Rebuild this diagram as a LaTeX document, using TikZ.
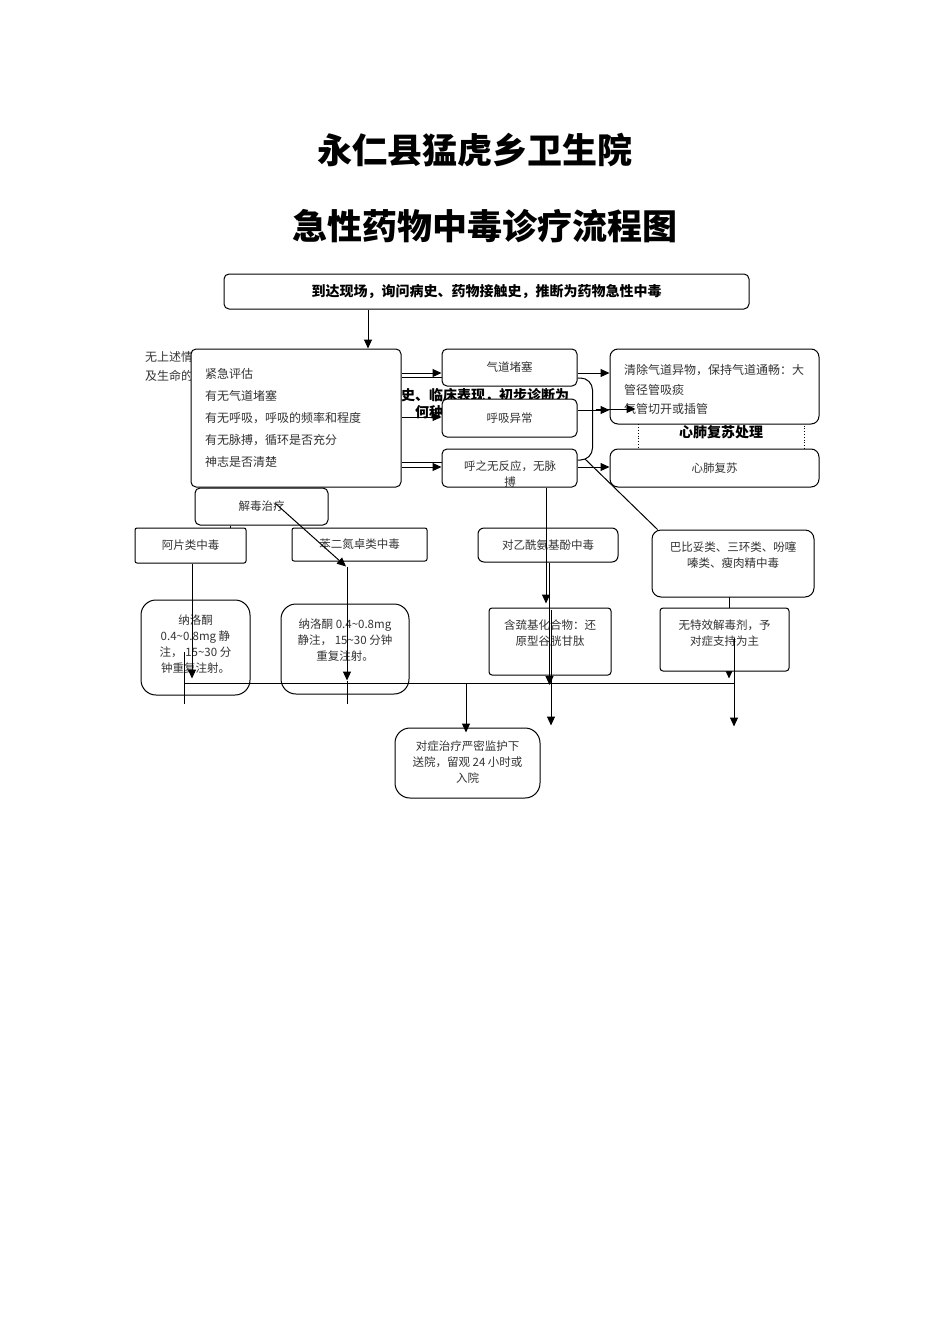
\documentclass[tikz,border=0pt]{standalone}
\usepackage{fontspec}
\setmainfont{Noto Sans CJK SC}
\usetikzlibrary{positioning,arrows.meta,calc}
\pgfdeclarelayer{back}
\pgfsetlayers{back,main}
\tikzset{
  box/.style={draw, line width=1pt, rounded corners=5pt, fill=white, inner sep=0pt},
  txt/.style={font=\fontsize{11.5}{16}\selectfont, text=black!80, align=center, inner sep=0pt},
  arr/.style={-{Triangle[length=9pt,width=8pt]}, line width=1pt},
  ln/.style={line width=1pt},
}
\begin{document}
\begin{tikzpicture}[x=1pt,y=-1pt]
\useasboundingbox (0,0) rectangle (950,1344);
% titles
\node[font=\fontsize{35}{40}\selectfont\bfseries] (T1) at (475,150) {永仁县猛虎乡卫生院};
\node[font=\fontsize{35}{40}\selectfont\bfseries] (T2) at (485,226) {急性药物中毒诊疗流程图};
% boxes
\node[box, minimum width=525pt, minimum height=35pt, font=\fontsize{14}{16}\selectfont\bfseries] (S) at (486.5,291.5) {到达现场，询问病史、药物接触史，推断为药物急性中毒};
\node[box, minimum width=210pt, minimum height=138pt, text width=182pt, inner xsep=14pt, align=left, font=\fontsize{12}{22}\selectfont, text=black!80] (E) at (296,418) {紧急评估\\有无气道堵塞\\有无呼吸，呼吸的频率和程度\\有无脉搏，循环是否充分\\神志是否清楚};
\node[box, txt, minimum width=135pt, minimum height=37pt] (K1) at (509.5,367.5) {气道堵塞};
\node[box, txt, minimum width=135pt, minimum height=38pt] (K2) at (509.5,418) {呼吸异常};
\node[box, minimum width=135pt, minimum height=38pt] (K3) at (509.5,468) {};
\node[txt] (K3t) at (510,474) {呼之无反应，无脉\\搏};
\node[box, rounded corners=8pt, minimum width=209pt, minimum height=75pt] (R1) at (714.5,386.5) {};
\node[txt, align=left, anchor=west, font=\fontsize{12}{19.5}\selectfont] (R1t) at (624,389.5) {清除气道异物，保持气道通畅：大\\管径管吸痰\\气管切开或插管};
\node[box, txt, rounded corners=8pt, minimum width=209pt, minimum height=38pt] (R2) at (714.5,468) {心肺复苏};
\node[box, txt, minimum width=133pt, minimum height=37pt] (J) at (261.5,506.5) {解毒治疗};
\node[box, txt, rounded corners=2pt, minimum width=111pt, minimum height=35pt] (A1) at (190.5,545.5) {阿片类中毒};
\node[box, txt, rounded corners=2pt, minimum width=135pt, minimum height=33pt] (A2) at (359.5,544.5) {苯二氮卓类中毒};
\node[box, txt, rounded corners=6pt, minimum width=140pt, minimum height=34pt] (A3) at (548,545) {对乙酰氨基酚中毒};
\node[box, rounded corners=9pt, minimum width=162pt, minimum height=67pt] (B4) at (733,563.5) {};
\node[txt] (B4t) at (733,555) {巴比妥类、三环类、吩噻\\嗪类、瘦肉精中毒};
\node[box, rounded corners=15pt, minimum width=109pt, minimum height=95pt] (N1) at (195.5,647.5) {};
\node[txt] (N1t) at (195.5,644) {纳洛酮\\0.4\textasciitilde0.8mg 静\\注， 15\textasciitilde30 分\\钟重复注射。};
\node[box, rounded corners=15pt, minimum width=128pt, minimum height=90pt] (N2) at (345,649) {};
\node[txt] (N2t) at (345,640) {纳洛酮 0.4\textasciitilde0.8mg\\静注， 15\textasciitilde30 分钟\\重复注射。};
\node[box, rounded corners=3pt, minimum width=122pt, minimum height=67pt] (H1) at (550,641.5) {};
\node[txt] (H1t) at (550,633) {含巯基化合物：还\\原型谷胱甘肽};
\node[box, rounded corners=3pt, minimum width=129pt, minimum height=63pt] (W) at (724.5,639.5) {};
\node[txt] (Wt) at (724.5,633) {无特效解毒剂，予\\对症支持为主};
\node[box, rounded corners=15pt, minimum width=145pt, minimum height=70pt] (F) at (467.5,763) {};
\node[txt] (Ft) at (467.5,762.5) {对症治疗严密监护下\\送院，留观 24 小时或\\入院};
% things lying under the boxes
\begin{pgfonlayer}{back}
\node[txt, anchor=west, font=\fontsize{12}{16}\selectfont] (U1) at (145,357) {无上述情};
\node[txt, anchor=west, font=\fontsize{12}{16}\selectfont] (U2) at (145,376) {及生命的};
\node[anchor=west, inner sep=0pt, font=\fontsize{14}{16}\selectfont\bfseries] (Q1) at (401,396) {史、临床表现，初步诊断为};
\node[anchor=west, inner sep=0pt, font=\fontsize{14}{16}\selectfont\bfseries] (Q2) at (415,412) {何种};
\node[draw, dotted, line width=0.8pt, minimum width=166pt, minimum height=60pt, font=\fontsize{14}{16}\selectfont\bfseries] (D) at (721,432) {心肺复苏处理};
\draw[arr] ($(B4.south -| 729,0)+(0,-9)$) -- ($(W.south -| 729,0)+(0,7)$);
\end{pgfonlayer}
% connectors
\coordinate (bkD) at (585,459);
\coordinate (busL) at (184,683);
\coordinate (busR) at (735,683);
\draw[arr] (S.south -| 368,0) -- (E.north -| 368,0);
\draw[arr] (E.east |- 0,373) -- (K1.west |- 0,373);
\draw[ln] (E.east |- 0,377) -- (K1.west |- 0,377);
\draw[arr] (E.east |- 0,417) -- (K2.west |- 0,417);
\draw[ln] (E.east |- 0,462) -- (K3.west |- 0,462);
\draw[arr] (E.east |- 0,467) -- (K3.west |- 0,467);
\draw[arr] (K1.east |- 0,373) -- (R1.west |- 0,373);
\draw[arr] (K2.east |- 0,410) -- (R1.west |- 0,410);
\draw[arr] ($(K2.east |- 0,409)+(18,0)$) -- ($(R1.west |- 0,409)+(26,0)$);
\draw[arr] (K3.east |- 0,467) -- (R2.west |- 0,467);
\draw[ln, rounded corners=12pt] (K1.east |- 0,378) -- ++(15,0) -- ++(0,82) -- ++(-15,0);
\draw[ln] (bkD) -- ([xshift=6pt]B4.north west);
\draw[ln] (J.south -| 230,0) -- (A1.north -| 230,0);
\draw[arr] ($(J.center)+(14,-3)$) -- ($(A2.south -| 346,0)+(0,5)$);
\draw[arr] ($(A2.south -| 347,0)+(0,5)$) -- ($(N2.south -| 347,0)+(0,-14)$);
\draw[ln] ($(N2.south -| 347,0)+(0,-14)$) -- ($(N2.south -| 347,0)+(0,9)$);
\draw[arr] (A1.south -| 192,0) -- ($(N1.south -| 192,0)+(0,-17)$);
\draw[ln] ($(N1.center -| 184,0)+(0,4.5)$) -- ($(N1.south -| 184,0)+(0,8)$);
\draw[ln] (busL) -- (busR);
\draw[arr] (K3.south -| 546,0) -- ($(H1.north -| 546,0)+(0,-4)$);
\draw[arr] (A3.south -| 549.5,0) -- ($(busL -| 549.5,0)+(0,2)$);
\draw[arr] ($(H1.north -| 551,0)+(0,2)$) -- ($(F.north -| 551,0)+(0,-2)$);
\draw[arr] ($(W.center -| 734,0)+(0,-2)$) -- ($(F.north -| 734,0)+(0,-1)$);
\draw[arr] (busL -| 466,0) -- ($(F.north -| 466,0)+(0,5)$);
\end{tikzpicture}
\end{document}
